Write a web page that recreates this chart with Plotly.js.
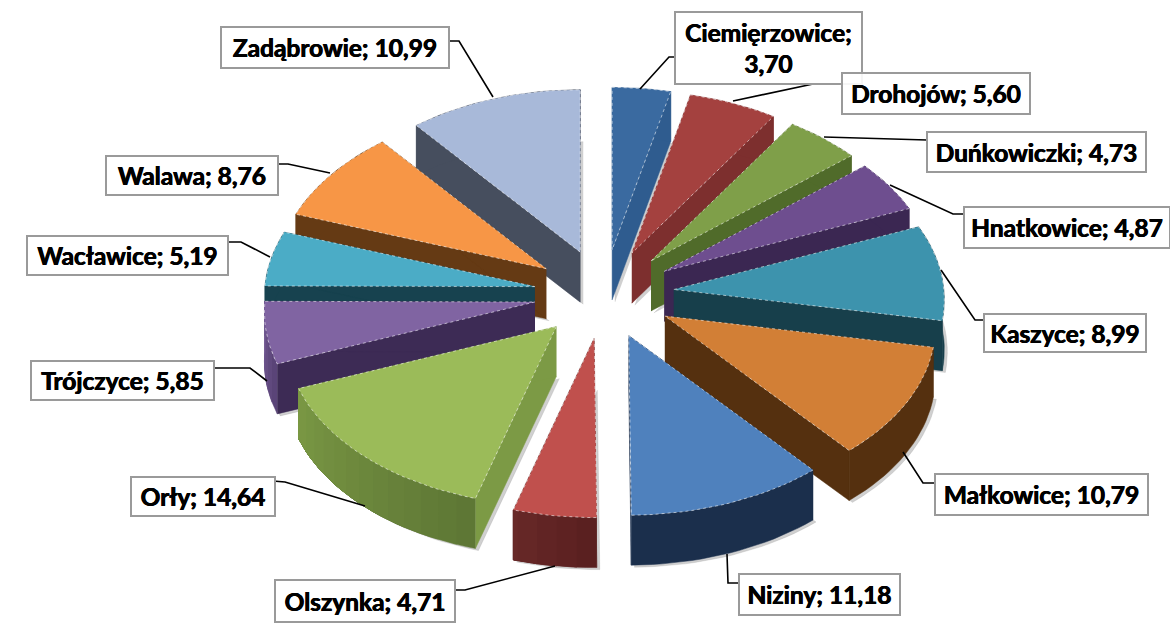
<!DOCTYPE html>
<html><head><meta charset="utf-8">
<script src="https://cdn.plot.ly/plotly-3.0.1.min.js"></script>
<style>html,body{margin:0;padding:0;background:#fff}#c{width:1170px;height:643px}</style>
</head><body><div id="c"></div>
<script>
var categories=["Ciemięrzowice","Drohojów","Duńkowiczki","Hnatkowice","Kaszyce","Małkowice","Niziny","Olszynka","Orły","Trójczyce","Wacławice","Walawa","Zadąbrowie"];
var values=[3.70,5.60,4.73,4.87,8.99,10.79,11.18,4.71,14.64,5.85,5.19,8.76,10.99];
var valueLabels=["3,70","5,60","4,73","4,87","8,99","10,79","11,18","4,71","14,64","5,85","5,19","8,76","10,99"];
var topColors=["#3A6AA0","#A4413F","#7F9F49","#6E4E8F","#3D93AD","#D27F36","#4F81BD","#C0504D","#9BBB59","#8064A2","#4BACC6","#F79646","#A8B9D9"];
var wallColors=["#2F5C8F","#7D2F2E","#506B2A","#3B2752","#173F4B","#55300F","#1B2F4C","#5E2221","#7C9A45","#3D2B55","#17424F","#653A14","#464E5E"];
var rimStart=["#2F5C8F","#7D2F2E","#506B2A","#3B2752","#173F4B","#55300F","#1B2F4C","#5A2020","#5E7735","#5A4478","#17424F","#653A14","#464E5E"];
var rimEnd=["#2F5C8F","#7D2F2E","#506B2A","#3B2752","#173F4B","#55300F","#1B2F4C","#6A2A29","#7C9A45","#7A5F9A","#17424F","#653A14","#464E5E"];
// label boxes: left, right, top, bottom
var boxes=[[675,862,12,84],[842,1030,73,114],[927,1146,132,172],[964,1170,207,248],[984,1146,314,352],[935,1148,474,515],[739,900,574,615],[275,455,580,622],[131,275,477,516],[31,214,361,400],[27,228,236,275],[106,278,156,195],[221,449,27,68]];
// leader polylines
var leaderX=[[640,669,675],[733,827,842],[824,917,927],[890,953,964],[941,975,984],[903,923,935],[727,728,740],[555,465,455],[365,285,273],[267,250,214],[270,241,228],[330,288,278],[493,459,449]];
var leaderY=[[89,57,57],[101,81,81],[137,140,140],[185,214,214],[270,320,320],[452,483,483],[554,583,583],[566,590,590],[506,482,481],[381,368,368],[257,242,242],[173,164,164],[97,41,41]];

var CX=604,CY=294,RX=270,RY=171,PULL=0.26,DEPTH=50;
function pt(th,r){ // angle in degrees clockwise from the top
  var a=th*Math.PI/180,s=Math.sin(a),c=Math.cos(a);
  return [s*RX*r*(1-0.06*c),-c*RY*r*(1-0.05*c)];
}
function mix(c1,c2,f){
  var p=function(c,k){return parseInt(c.substr(k,2),16)};
  return 'rgb('+[1,3,5].map(function(k){return Math.round(p(c1,k)+(p(c2,k)-p(c1,k))*f)}).join(',')+')';
}
var total=values.reduce(function(a,b){return a+b},0);
var traces=[],cum=0,slices=[];
values.forEach(function(v,i){
  var a0=cum/total*360;cum+=v;var a1=cum/total*360,mid=(a0+a1)/2;
  var m=Math.sin(mid*Math.PI/180),n=Math.cos(mid*Math.PI/180);
  var ax=CX+m*RX*PULL,ay=CY-n*RY*PULL;
  var arc=[];
  for(var t=a0;t<a1;t+=2)arc.push(t);arc.push(a1);
  var px=arc.map(function(t){return ax+pt(t,1)[0]}),py=arc.map(function(t){return ay+pt(t,1)[1]});
  slices.push({i:i,n:n,ax:ax,ay:ay,px:px,py:py});
});
function poly(x,y,fill,line,dash){
  traces.push({type:'scatter',mode:'lines',x:x,y:y,fill:'toself',fillcolor:fill,
    line:{color:line||fill,width:line?1:0.5,dash:dash||'solid'},hoverinfo:'skip',showlegend:false});
}
slices.sort(function(a,b){return b.n-a.n});
slices.forEach(function(s){
  var i=s.i,L=s.px.length,d=DEPTH;
  // soft shadow
  poly([s.ax+3].concat(s.px.map(function(x){return x+3})),
       [s.ay+d+2].concat(s.py.map(function(y){return y+d+2})),'rgba(120,120,120,0.35)');
  // radial walls
  poly([s.ax,s.px[0],s.px[0],s.ax],[s.ay,s.py[0],s.py[0]+d,s.ay+d],wallColors[i]);
  poly([s.ax,s.px[L-1],s.px[L-1],s.ax],[s.ay,s.py[L-1],s.py[L-1]+d,s.ay+d],wallColors[i]);
  // outer wall, shaded along the arc: each band runs to the arc's end and the next one paints over it
  var step=rimStart[i]===rimEnd[i]?L-1:2;
  for(var k=0;k<L-1;k+=step){
    var xs=s.px.slice(k),ys=s.py.slice(k);
    poly(xs.concat(xs.slice().reverse()),ys.concat(ys.slice().reverse().map(function(y){return y+d})),mix(rimStart[i],rimEnd[i],k/(L-1)));
  }
  // top
  poly([s.ax].concat(s.px).concat([s.ax]),[s.ay].concat(s.py).concat([s.ay]),topColors[i],'rgba(255,255,255,0.55)','dot');
});
categories.forEach(function(c,i){
  traces.push({type:'scatter',mode:'lines',x:leaderX[i],y:leaderY[i],line:{color:'#000',width:1.6},hoverinfo:'skip',showlegend:false});
});
var annotations=categories.map(function(c,i){
  var b=boxes[i],txt=i===0?c+';<br>'+valueLabels[i]:c+'; '+valueLabels[i];
  return {xref:'x',yref:'y',x:(b[0]+b[1])/2,y:(b[2]+b[3])/2,text:txt,showarrow:false,xanchor:'center',yanchor:'middle',
    width:b[1]-b[0]-2,height:b[3]-b[2]-2,borderpad:0,bgcolor:i===1?'rgba(255,255,255,0.9)':'#fff',bordercolor:'#9a9a9a',borderwidth:2,align:'center',valign:'middle',
    font:{family:'Lato, "Open Sans", sans-serif',size:24.5,color:'#000',weight:700,shadow:'0.4px 0 0 #000, -0.4px 0 0 #000'}};
});
Plotly.newPlot('c',traces,{
  width:1170,height:643,margin:{l:0,r:0,t:0,b:0},paper_bgcolor:'#fff',plot_bgcolor:'#fff',showlegend:false,
  xaxis:{range:[0,1170],visible:false,fixedrange:true},
  yaxis:{range:[643,0],visible:false,fixedrange:true},
  annotations:annotations
},{displayModeBar:false,staticPlot:true});
</script></body></html>
